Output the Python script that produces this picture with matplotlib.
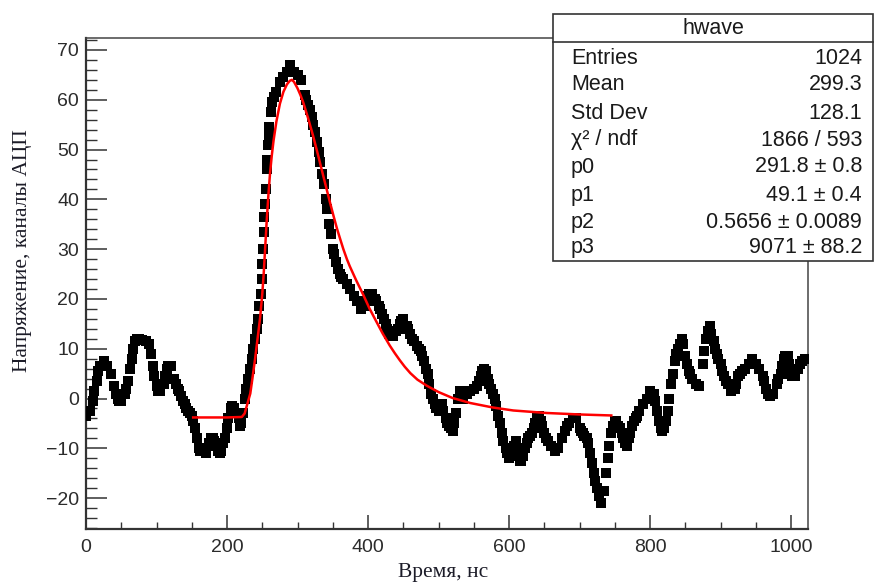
import matplotlib
matplotlib.use("Agg")
import matplotlib.pyplot as plt
from matplotlib.patches import Rectangle
from matplotlib.lines import Line2D
from matplotlib.ticker import MultipleLocator

# ---------------- data ----------------
time_ns = [0, 5, 10, 15, 20, 25, 30, 35, 40, 45, 50, 55, 60, 62, 65, 67, 70, 75, 80, 85, 90, 92, 95, 97,
           100, 105, 110, 115, 120, 125, 130, 135, 140, 145, 150, 155, 157, 160, 165, 170, 175, 180, 185,
           190, 195, 200, 205, 210, 215, 220, 222, 225, 227, 230, 232, 235, 237, 240, 242, 244, 246, 248,
           249, 250, 251, 252, 253, 254, 255, 256, 257, 258, 259, 260, 262, 264, 267, 270, 275, 280, 285,
           290, 295, 300, 305, 310, 312, 315, 317, 320, 322, 325, 327, 330, 332, 335, 337, 340, 342, 345,
           347, 350, 352, 355, 360, 365, 370, 375, 380, 385, 390, 395, 400, 405, 410, 415, 420, 425, 430,
           435, 440, 445, 450, 455, 460, 465, 470, 475, 480, 485, 487, 490, 492, 495, 500, 505, 510, 515,
           520, 525, 527, 530, 535, 540, 545, 550, 555, 560, 565, 570, 575, 580, 585, 590, 592, 595, 597,
           600, 605, 610, 615, 620, 625, 630, 635, 640, 645, 650, 655, 660, 665, 670, 675, 680, 685, 690,
           695, 700, 705, 710, 715, 717, 720, 722, 725, 727, 730, 735, 737, 740, 742, 745, 750, 755, 760,
           765, 770, 775, 780, 785, 790, 795, 800, 805, 810, 815, 820, 825, 827, 830, 832, 835, 837, 840,
           845, 850, 855, 860, 865, 870, 875, 877, 880, 882, 885, 890, 895, 900, 905, 910, 915, 920, 925,
           930, 935, 940, 945, 950, 955, 960, 965, 970, 975, 980, 985, 990, 995, 1000, 1005, 1010, 1015,
           1020]
voltage = [-3.5, -2.5, -0.5, 3.5, 6.5, 7.5, 6.5, 5, 2.5, 0, -0.5, 1, 3.5, 6, 8, 10, 11.5, 12, 11.8, 11.5,
           11, 9, 6.5, 4.5, 2.5, 1.5, 3, 6, 6.5, 4, 2, 0.5, -1, -2.5, -3.5, -6, -8, -10, -10.5, -11, -9,
           -8, -9.5, -11, -9, -6, -2, -2, -3, -5, -3, 0, 2, 4, 6, 8, 10, 12, 14, 16, 18.5, 21, 24, 27,
           30, 33.5, 36.5, 39, 42, 46, 48, 51, 53, 54.5, 57.5, 59.5, 60.5, 61.5, 63.5, 64.5, 65.5, 67,
           65.5, 65, 64, 61, 60, 59, 58, 56.5, 55, 53.5, 51.5, 49.5, 47.5, 45, 43, 40, 38, 35, 33, 30,
           29, 27.5, 25, 24, 23, 22, 20.5, 19.5, 18, 18.5, 20.5, 21, 20, 18.5, 17, 15, 13, 12.5, 13.5,
           15, 16, 14.5, 13, 11.5, 10.5, 9.5, 7.5, 5, 3, 1, 0, -1, -2.5, -1, -4, -5.5, -6.5, -3, 0,
           1.5, 0, 1, 1.5, 2, 2.5, 4.5, 6, 4, 2, 0, -3.5, -7, -8.5, -10, -11, -12, -11, -8.5, -12.5,
           -11.5, -9, -7.5, -6, -4, -4.5, -7, -8.5, -9.5, -10.5, -10, -8, -6.5, -5, -4, -4, -6, -7, -8,
           -11, -13, -15, -16.5, -18, -19.5, -21, -18.5, -15, -12, -9.5, -7, -4.5, -5.5, -7, -9, -8,
           -5.5, -4, -2.5, -1, 0, 1.5, 1, -2.5, -6, -6, -2.5, 0, 3, 5, 7.5, 9, 10, 12, 8.5, 5.5, 4, 3,
           2.5, 7, 9.5, 12, 13.5, 14.5, 11.5, 9, 7, 4.5, 3, 1.5, 2, 4.5, 5.5, 6, 7, 8, 7, 6, 4.5, 2,
           0.5, 1, 3, 5, 8, 8.5, 5, 4.5, 6, 7.5, 8]

# additional samples read between the ones above
time_extra = [12, 17, 42, 47, 57, 72, 102, 112, 117, 127, 132, 137, 142, 147, 152, 162, 177, 182, 187,
              192, 197, 202, 207, 217, 219, 357, 362, 397, 402, 412, 417, 422, 427, 432, 442, 447, 457,
              462, 472, 477, 482, 497, 502, 507, 512, 517, 522, 532, 557, 562, 567, 572, 577, 582, 587,
              602, 607, 612, 617, 622, 627, 632, 637, 642, 647, 652, 682, 702, 707, 712, 747, 752, 757,
              762, 767, 772, 777, 782, 807, 812, 817, 822, 842, 847, 852, 857, 887, 892, 897, 902, 907,
              922, 927, 962, 967, 982, 987, 992, 997, 1002, 1012]
voltage_extra = [1.5, 5.5, 1, -0.5, 2, 12, 1.5, 4.5, 6.5, 3, 1.5, -0.5, -2, -3, -4.5, -10.5, -8, -8.5,
                 -10.5, -10.5, -8, -4, -1.5, -4, -5.5, 26, 24.5, 19.5, 21, 19.5, 18, 16, 14, 12.5, 14,
                 15.5, 14, 12, 10, 8.5, 6, -2, -1.5, -2.5, -5, -6, -5, 1, 3.5, 5.5, 5.5, 3, 1, -1.5,
                 -5, -11.5, -9.5, -10.5, -12.5, -10, -8, -7, -5, -3.5, -5.5, -8, -5.5, -6.5, -7.5, -9,
                 -5.5, -4.5, -6, -8, -9.5, -7, -4.5, -3.5, -0.5, -4.5, -6.5, -4.5, 11, 11, 7, 5, 13,
                 10, 8, 5.5, 3.5, 3, 5, 3.5, 1, 4, 6.5, 8.5, 7, 4.5, 7]

fit_time = [152, 200, 221, 225, 229, 233, 236, 240, 244, 247, 250, 252, 254, 256, 258.5, 261, 263.5,
            266, 270, 275, 280, 285, 289, 292, 295, 300, 304, 308, 315, 322, 330, 336, 341, 346, 351,
            356, 361, 365, 370, 374, 383, 393, 402, 412, 421, 431, 438, 445, 452, 460, 470, 483, 500,
            520, 545, 577, 606, 653, 700, 745]
fit_value = [-3.8, -3.8, -3.7, -3, -1, 1, 4, 8.2, 12.8, 16.3, 21, 25, 30, 35, 40.5, 45.2, 48.8, 51.8,
             55.6, 59.2, 61.6, 63.1, 63.8, 64, 63.6, 62.3, 61, 59.5, 56.3, 52.8, 48.4, 45, 42.2, 39.4,
             36.7, 34.1, 31.8, 30, 28, 26.6, 23.8, 20.9, 18.1, 15.4, 13, 10.6, 9.1, 7.7, 6.4, 5.1, 3.8,
             2.6, 1.3, 0.1, -0.9, -1.8, -2.4, -2.9, -3.2, -3.4]

stats_names = ["Entries", "Mean", "Std Dev", "χ² / ndf", "p0", "p1", "p2", "p3"]
stats_values = ["1024", "299.3", "128.1", "1866 / 593", "291.8 ± 0.8", "49.1 ± 0.4",
                "0.5656 ± 0.0089", "9071 ± 88.2"]
stats_title = "hwave"

x_label = "Время, нс"
y_label = "Напряжение, каналы АЦП"

# ---------------- figure ----------------
W, H = 874, 584
fig = plt.figure(figsize=(W / 100, H / 100), dpi=100)
fig.patch.set_facecolor("white")

def fx(px):
    return px / W

def fy(py):
    return 1 - py / H

ax = fig.add_axes([fx(86), fy(529), fx(808) - fx(86), fy(38) - fy(529)])
ax.set_xlim(0, 1024)
ax.set_ylim(-26.2, 72.4)

for tt, vv in ((time_ns, voltage), (time_extra, voltage_extra)):
    ax.plot(tt, vv, linestyle="none", marker="s", markersize=6.6,
            markerfacecolor="black", markeredgewidth=0, color="black", zorder=3)
ax.plot(fit_time, fit_value, color="#ff0000", linewidth=1.8, zorder=4)

ax.xaxis.set_major_locator(MultipleLocator(200))
ax.xaxis.set_minor_locator(MultipleLocator(50))
ax.yaxis.set_minor_locator(MultipleLocator(2))

tick_color = "#2b2b2b"
ax.tick_params(axis="x", which="major", direction="in", length=10, width=1.1,
               color="#333333", pad=7, labelsize=14, labelcolor=tick_color)
ax.tick_params(axis="x", which="minor", direction="in", length=5, width=1.0, color="#333333")
ax.tick_params(axis="y", which="major", direction="in", length=15, width=1.1,
               color="#333333", pad=5, labelsize=14, labelcolor=tick_color)
ax.tick_params(axis="y", which="minor", direction="in", length=8, width=1.0, color="#333333")

ax.set_yticks([-20, -10, 0, 10, 20, 30, 40, 50, 60, 70])
ax.set_yticklabels(["−20", "−10", "0", "10", "20", "30", "40", "50", "60", "70"],
                   fontfamily="Liberation Sans")
ax.set_xticks([0, 200, 400, 600, 800, 1000])
ax.set_xticklabels(["0", "200", "400", "600", "800", "1000"], fontfamily="Liberation Sans")

for side in ["left", "bottom"]:
    ax.spines[side].set_color("#333333")
    ax.spines[side].set_linewidth(1.6)
for side in ["top", "right"]:
    ax.spines[side].set_color("#444444")
    ax.spines[side].set_linewidth(1.1)

# axis titles
label_color = "#1c1c28"
fig.text(fx(443), fy(572), x_label, ha="center", va="center", fontsize=15.5,
         fontfamily="Liberation Serif", color=label_color)
fig.text(fx(23), fy(251), y_label, ha="center", va="center", rotation=90, fontsize=15.5,
         fontfamily="Liberation Serif", color=label_color)

# stats box
box_l, box_t, box_r, box_b = 553, 14, 873, 261
fig.add_artist(Rectangle((fx(box_l), fy(box_b)), fx(box_r) - fx(box_l), fy(box_t) - fy(box_b),
                         transform=fig.transFigure, facecolor="white", edgecolor="#333333",
                         linewidth=1.2, zorder=10))
fig.add_artist(Line2D([fx(box_l), fx(box_r)], [fy(42), fy(42)], transform=fig.transFigure,
                      color="#333333", linewidth=1.2, zorder=11))
fig.text(fx(713), fy(29), stats_title, ha="center", va="center", fontsize=15.5,
         fontfamily="Liberation Sans", color="#1a1a1a", zorder=12)
row_y = [58, 85, 113, 140, 167, 195, 222, 248]
for name, val, yy in zip(stats_names, stats_values, row_y):
    fig.text(fx(571), fy(yy), name, ha="left", va="center", fontsize=15.5,
             fontfamily="Liberation Sans", color="#1a1a1a", zorder=12)
    fig.text(fx(862), fy(yy), val, ha="right", va="center", fontsize=15.5,
             fontfamily="Liberation Sans", color="#1a1a1a", zorder=12)

fig.savefig("out.png", dpi=100, facecolor="white")
